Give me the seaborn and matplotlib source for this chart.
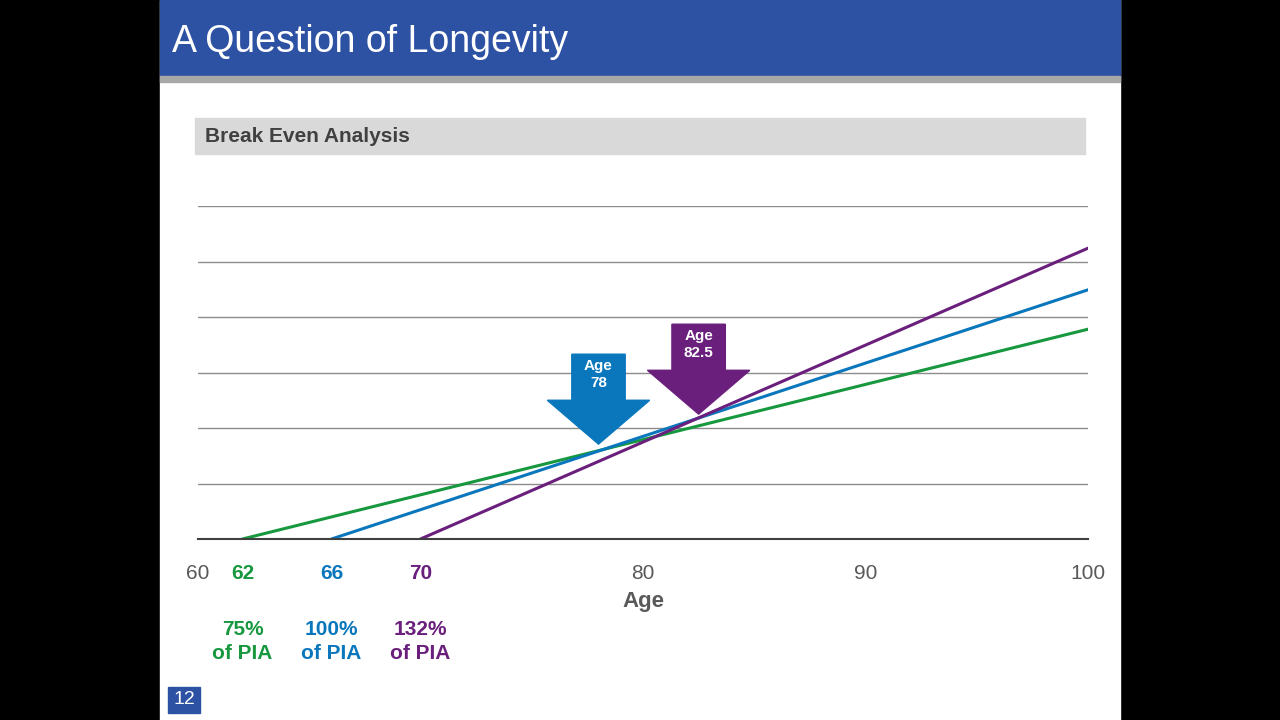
import matplotlib
matplotlib.use("Agg")
import matplotlib.pyplot as plt
import seaborn as sns
import pandas as pd
from matplotlib.patches import Rectangle, Polygon

sns.set_theme(style="white")
plt.rcParams['font.family'] = ['Liberation Sans', 'DejaVu Sans']

# data
start_ages = [62, 66, 70]
end_age = 100
end_values = [3.78, 4.49, 5.24]
series_names = ["75% of PIA", "100% of PIA", "132% of PIA"]
series_colors = ["#17983f", "#0a77bd", "#6a1f7c"]
pct_labels = ["75%\nof PIA", "100%\nof PIA", "132%\nof PIA"]
arrow_ages = [78, 82.5]
arrow_tips = [1.71, 2.25]
arrow_labels = ["Age\n78", "Age\n82.5"]
arrow_colors = ["#0a77bd", "#6a1f7c"]
plain_ticks = [60, 80, 90, 100]

rows = []
for n, s, v in zip(series_names, start_ages, end_values):
    rows += [dict(series=n, age=s, value=0), dict(series=n, age=end_age, value=v)]
df = pd.DataFrame(rows)

fig = plt.figure(figsize=(12.8, 7.2), dpi=100)
fig.patch.set_facecolor("black")
W, H = 1280, 720
def fx(x): return x / W
def fy(y): return 1 - y / H

bg = fig.add_axes([0, 0, 1, 1]); bg.set_xlim(0, W); bg.set_ylim(H, 0); bg.axis("off")
bg.add_patch(Rectangle((160, 0), 960, 720, color="white"))
bg.add_patch(Rectangle((160, 0), 960, 76, color="#2d51a3"))
bg.add_patch(Rectangle((160, 76), 960, 6, color="#a8a8a8"))
bg.text(172, 42, "A Question of Longevity", color="white", fontsize=27, va="center")
bg.add_patch(Rectangle((195, 118), 890, 36, color="#d9d9d9"))
bg.text(205, 136, "Break Even Analysis", color="#404040", fontsize=15, fontweight="bold", va="center")
bg.add_patch(Rectangle((168, 687), 32, 26, color="#2d51a3"))
bg.text(184, 700, "12", color="white", fontsize=14, ha="center", va="center")

ax = fig.add_axes([fx(198), fy(539), fx(1088 - 198), (539 - 206) / H])
sns.lineplot(data=df, x="age", y="value", hue="series", palette=series_colors,
             linewidth=2.2, legend=False, ax=ax)
ax.set_xlim(60, 100); ax.set_ylim(0, 6)
for sp in ["top", "right", "left"]:
    ax.spines[sp].set_visible(False)
ax.spines["bottom"].set_color("#404040"); ax.spines["bottom"].set_linewidth(1.5)
ax.set_yticks(range(1, 7)); ax.set_yticklabels([])
ax.yaxis.grid(True, color="#8c8c8c", linewidth=1)
ax.tick_params(left=False, bottom=False)
ax.set_xticks(plain_ticks + start_ages)
ax.set_xticklabels([str(t) for t in plain_ticks] + [str(t) for t in start_ages])
for lab, t in zip(ax.get_xticklabels(), plain_ticks + start_ages):
    lab.set_fontsize(15)
    if t in start_ages:
        lab.set_color(series_colors[start_ages.index(t)]); lab.set_fontweight("bold")
    else:
        lab.set_color("#595959")
ax.tick_params(axis="x", pad=12)
ax.set_xlabel("Age", fontsize=16, fontweight="bold", color="#595959", labelpad=6)
ax.set_ylabel("")

for s, lbl, c in zip(start_ages, pct_labels, series_colors):
    ax.text(s, -1.85, lbl, color=c, fontsize=15, fontweight="bold", ha="center",
            va="center", linespacing=1.3, transform=ax.transData, clip_on=False)

for a, tip, lbl, c in zip(arrow_ages, arrow_tips, arrow_labels, arrow_colors):
    sw, hw, hh, sh = 1.2, 2.3, 0.79, 0.83
    pts = [(a - sw, tip + hh + sh), (a + sw, tip + hh + sh), (a + sw, tip + hh),
           (a + hw, tip + hh), (a, tip), (a - hw, tip + hh), (a - sw, tip + hh)]
    ax.add_patch(Polygon(pts, closed=True, color=c, zorder=5))
    ax.text(a, tip + hh + sh * 0.5 + 0.05, lbl, color="white", fontsize=11, fontweight="bold",
            ha="center", va="center", zorder=6, linespacing=1.2)

fig.savefig("out.png", dpi=100, facecolor=fig.get_facecolor())
